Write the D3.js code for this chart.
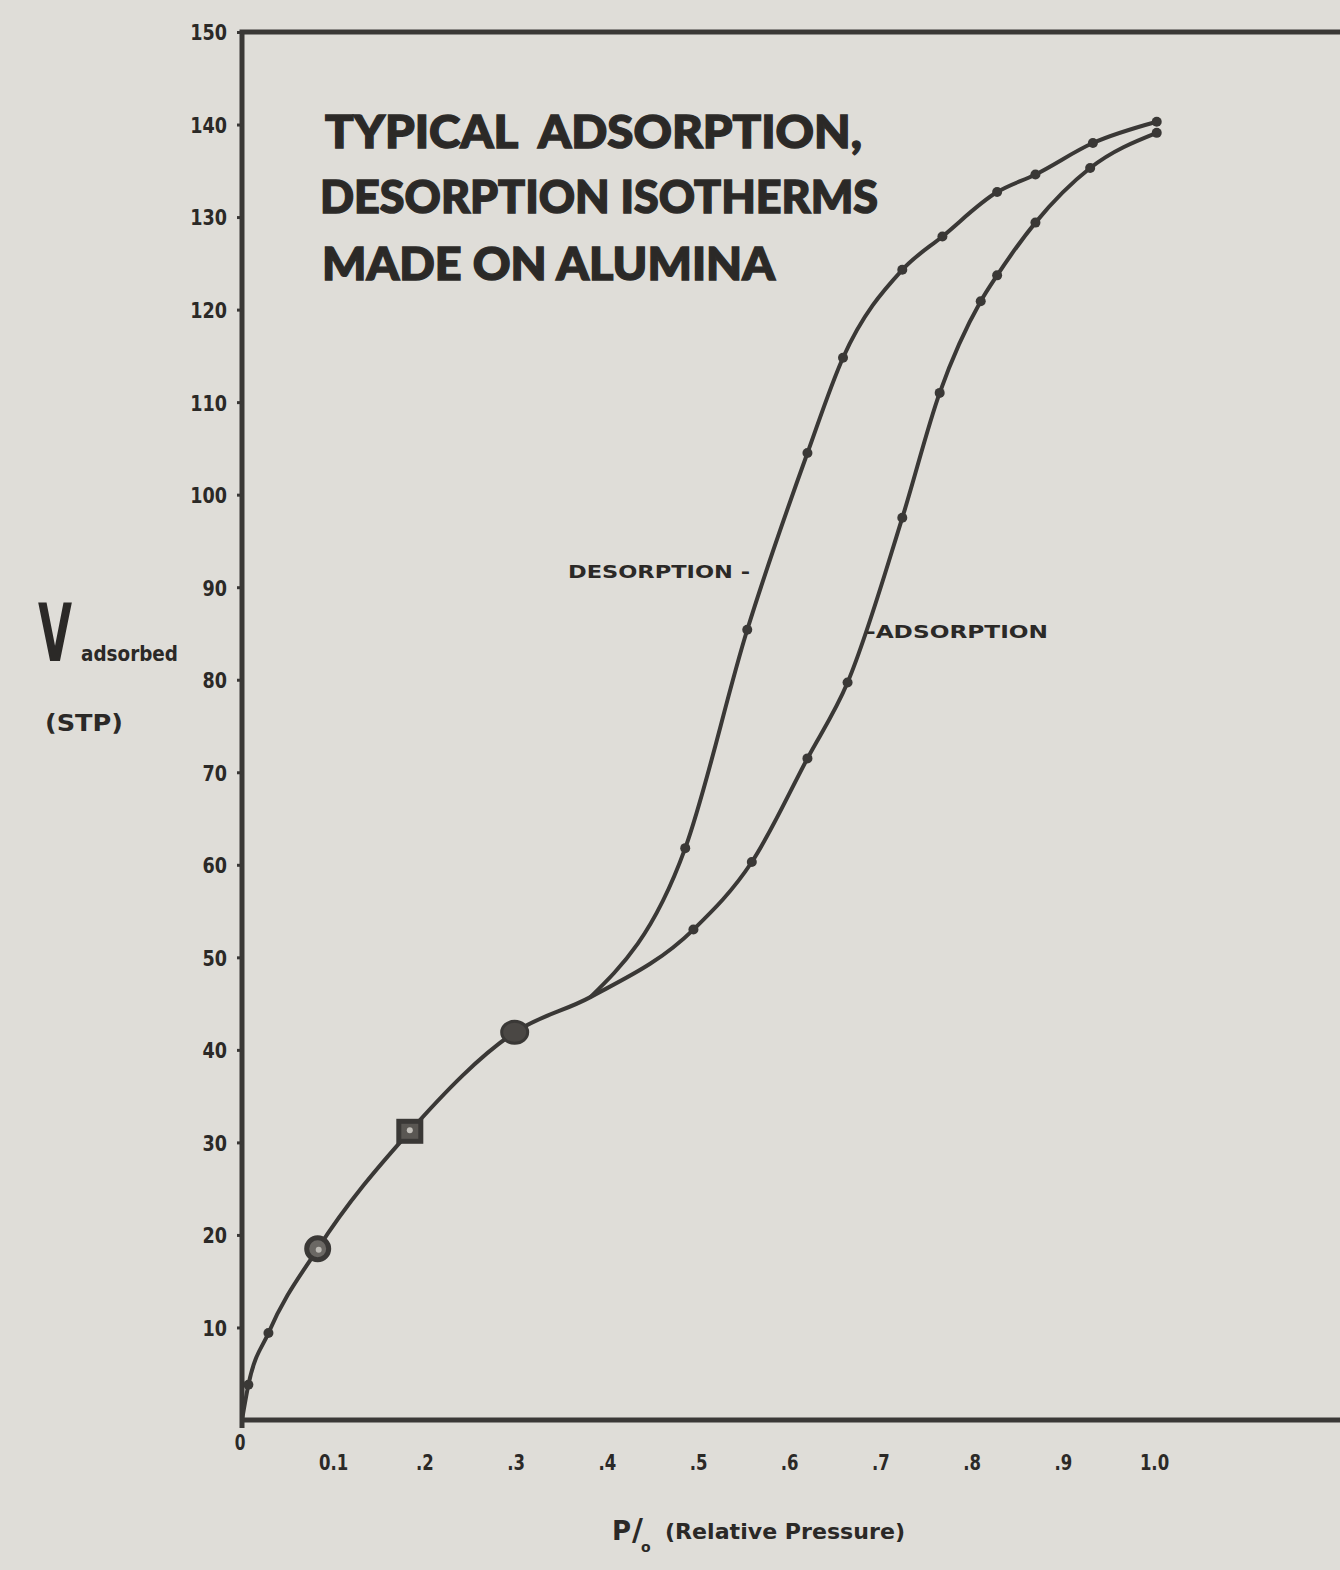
<!DOCTYPE html>
<html lang="en">
<head>
  <meta charset="UTF-8">
  <title>Adsorption / desorption isotherms</title>
  <style>
    html, body {
      margin: 0;
      background: #dfddd8;
      overflow: hidden;
      width: 100%;
      height: 100%;
    }
    svg {
      display: block;
    }
    text {
      font-family: 'DejaVu Sans', 'Liberation Sans', sans-serif;
      font-weight: bold;
      fill: #2b2927;
      white-space: pre;
    }
  </style>
</head>
<body>
  <svg width="1340" height="1570"></svg>
</body>
<script src="https://d3js.org/d3.v7.min.js"></script>
<script type="text/javascript">
  // values
  const xTicks = [0.1, 0.2, 0.3, 0.4, 0.5, 0.6, 0.7, 0.8, 0.9, 1.0]
  const xTickLabels = ['0.1', '.2', '.3', '.4', '.5', '.6', '.7', '.8', '.9', '1.0']
  const yTicks = [10, 20, 30, 40, 50, 60, 70, 80, 90, 100, 110, 120, 130, 140, 150]

  // adsorption branch (measured points), P/Po vs volume adsorbed
  const adsX = [0, 0.007, 0.029, 0.083, 0.184, 0.299, 0.495, 0.559, 0.620, 0.664, 0.724, 0.765, 0.810, 0.828, 0.870, 0.930, 1.003]
  const adsY = [0, 3.8, 9.4, 18.5, 31.2, 41.9, 53.0, 60.3, 71.5, 79.7, 97.5, 111.0, 120.9, 123.7, 129.4, 135.3, 139.1]

  // desorption branch (measured points), from saturation downwards
  const desX = [1.003, 0.933, 0.870, 0.828, 0.768, 0.724, 0.659, 0.620, 0.554, 0.486]
  const desY = [140.3, 138.0, 134.6, 132.7, 127.9, 124.3, 114.8, 104.5, 85.4, 61.8]

  // where the desorption curve rejoins the adsorption curve (no marker)
  const joinX = 0.382
  const joinY = 45.7

  const svg = d3.select('svg')
  const ink = '#3a3836'

  const x = d3.scaleLinear().domain([0, 1]).range([242, 1154])
  const y = d3.scaleLinear().domain([0, 150]).range([1420, 32])

  // frame: left axis, top edge, bottom axis (right edge is off the page)
  svg.append('path')
    .attr('d', `M1340,${y(150)}H${x(0)}V${y(0) + 8}M${x(0)},${y(0)}H1340`)
    .attr('fill', 'none')
    .attr('stroke', ink)
    .attr('stroke-width', 5)

  // y axis ticks
  const yAxis = svg.append('g')
    .attr('transform', `translate(${x(0)},0)`)
    .call(d3.axisLeft(y).tickValues(yTicks).tickSize(5).tickPadding(0))
  yAxis.select('.domain').remove()
  yAxis.selectAll('line').attr('stroke', ink).attr('stroke-width', 3)
  yAxis.selectAll('text')
    .attr('x', -15 / 0.8)
    .attr('dy', '0.36em')
    .attr('transform', 'scale(0.8,1)')
    .style('font-size', '22px')
    .attr('fill', '#222')

  // x axis labels
  const xAxis = svg.append('g')
    .attr('transform', `translate(0,${y(0)})`)
    .call(d3.axisBottom(x).tickValues(xTicks).tickSize(0).tickFormat((d, i) => xTickLabels[i]))
  xAxis.select('.domain').remove()
  xAxis.selectAll('.tick text')
    .attr('y', 0).attr('dy', 0)
    .attr('transform', 'translate(0,50) scale(0.75,1)')
    .style('font-size', '22px')
    .attr('fill', '#222')

  // origin label
  svg.append('text')
    .attr('x', 0)
    .attr('y', y(0) + 30)
    .attr('text-anchor', 'middle')
    .style('font-size', '22px')
    .attr('transform', `translate(${x(0) - 2},0) scale(0.7,1)`)
    .text('0')

  // curves
  const line = d3.line()
    .x(d => x(d[0]))
    .y(d => y(d[1]))
    .curve(d3.curveMonotoneX)

  const ads = adsX.map((v, i) => [v, adsY[i]])
  const des = desX.map((v, i) => [v, desY[i]])

  const adsPath = ads.concat([[joinX, joinY]]).sort((a, b) => a[0] - b[0])
  const desPath = [[joinX, joinY]].concat(des.slice().reverse())

  svg.append('path')
    .datum(adsPath)
    .attr('d', line)
    .attr('fill', 'none')
    .attr('stroke', ink)
    .attr('stroke-width', 4)

  svg.append('path')
    .datum(desPath)
    .attr('d', line)
    .attr('fill', 'none')
    .attr('stroke', ink)
    .attr('stroke-width', 4)

  // small point markers
  const big = { 3: 'ring', 4: 'square', 5: 'blob' }
  const small = ads.filter((d, i) => i > 0 && !big[i]).concat(des)

  svg.append('g')
    .selectAll('circle')
    .data(small)
    .join('circle')
    .attr('cx', d => x(d[0]))
    .attr('cy', d => y(d[1]))
    .attr('r', 5)
    .attr('fill', ink)

  // the three larger low-pressure markers
  Object.keys(big).forEach(k => {
    const d = ads[k]
    const cx = x(d[0]), cy = y(d[1])
    if (big[k] === 'ring') {
      svg.append('circle').attr('cx', cx).attr('cy', cy).attr('r', 11)
        .attr('fill', '#6b6864').attr('stroke', ink).attr('stroke-width', 5)
      svg.append('circle').attr('cx', cx + 1).attr('cy', cy + 1).attr('r', 3).attr('fill', '#bdbab4')
    } else if (big[k] === 'square') {
      svg.append('rect').attr('x', cx - 11).attr('y', cy - 10).attr('width', 22).attr('height', 20)
        .attr('fill', '#5a5753').attr('stroke', ink).attr('stroke-width', 5)
      svg.append('circle').attr('cx', cx).attr('cy', cy - 1).attr('r', 3).attr('fill', '#c3c0ba')
    } else {
      svg.append('ellipse').attr('cx', cx).attr('cy', cy).attr('rx', 13).attr('ry', 11)
        .attr('fill', '#4a4744').attr('stroke', ink).attr('stroke-width', 3)
    }
  })

  // title block
  const title = [
    { t: 'TYPICAL  ADSORPTION,', x: 325, y: 148, w: 537 },
    { t: 'DESORPTION ISOTHERMS', x: 320, y: 213, w: 558 },
    { t: 'MADE ON ALUMINA', x: 322, y: 280, w: 453 }
  ]
  svg.append('g')
    .selectAll('text')
    .data(title)
    .join('text')
    .attr('x', d => d.x)
    .attr('y', d => d.y)
    .attr('textLength', d => d.w)
    .attr('lengthAdjust', 'spacingAndGlyphs')
    .style('font-family', "Lato, 'DejaVu Sans', sans-serif")
    .style('font-size', '46px')
    .style('font-weight', 900)
    .attr('fill', '#2e2c2a')
    .attr('stroke', '#2e2c2a')
    .attr('stroke-width', 1.5)
    .text(d => d.t)

  // branch labels
  svg.append('text')
    .attr('x', 568).attr('y', 578)
    .attr('textLength', 182).attr('lengthAdjust', 'spacingAndGlyphs')
    .style('font-size', '17px')
    .text('DESORPTION -')
  svg.append('text')
    .attr('x', 866).attr('y', 638)
    .attr('textLength', 182).attr('lengthAdjust', 'spacingAndGlyphs')
    .style('font-size', '17px')
    .text('-ADSORPTION')

  // y axis title: big V squeezed horizontally, subscript beside it
  svg.append('text')
    .attr('x', 0).attr('y', 0)
    .attr('transform', 'translate(38,661) scale(0.55,1)')
    .style('font-size', '80px')
    .text('V')
  svg.append('text')
    .attr('x', 81).attr('y', 661)
    .attr('textLength', 97).attr('lengthAdjust', 'spacingAndGlyphs')
    .style('font-size', '21px')
    .text('adsorbed')
  svg.append('text')
    .attr('x', 45).attr('y', 731)
    .attr('textLength', 78).attr('lengthAdjust', 'spacingAndGlyphs')
    .style('font-size', '23px')
    .text('(STP)')

  // x axis title
  const xt = svg.append('text')
    .attr('x', 612).attr('y', 1540)
    .style('font-size', '26px')
  xt.append('tspan').text('P')
  xt.append('tspan').attr('dx', 1).style('font-size', '30px').text('/')
  xt.append('tspan').attr('dx', -2).attr('dy', 12).style('font-size', '14px').text('o')
  svg.append('text')
    .attr('x', 665).attr('y', 1539)
    .attr('textLength', 240).attr('lengthAdjust', 'spacingAndGlyphs')
    .style('font-size', '22px')
    .text('(Relative Pressure)')
</script>
</html>
